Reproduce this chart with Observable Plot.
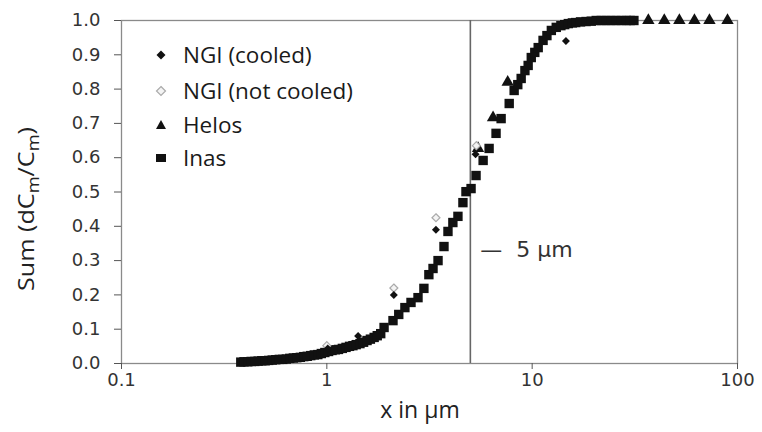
<!DOCTYPE html>
<html>
<head>
<meta charset="utf-8">
<script src="https://cdn.jsdelivr.net/npm/d3@7"></script>
<script src="https://cdn.jsdelivr.net/npm/@observablehq/plot@0.6"></script>
<style>
  html, body { margin: 0; padding: 0; background: #fff; }
  #wrap { position: relative; width: 762px; height: 432px; }
  #legend { position: absolute; left: 151px; top: 0; font-family: "Open Sans", sans-serif; font-size: 22.5px; line-height: 24px; color: #1a1a1a; }
  #legend .row { position: absolute; left: 0; height: 24px; display: flex; align-items: center; white-space: nowrap; }
  #legend svg { width: 20px; height: 20px; margin-right: 12px; flex: none; }
</style>
</head>
<body>
<div id="wrap"></div>
<script>
// ---- data ----
const inasX = [0.381, 0.395, 0.412, 0.428, 0.446, 0.463, 0.482, 0.501, 0.521, 0.542, 0.564, 0.587, 0.610, 0.635, 0.660, 0.687, 0.714, 0.743, 0.772, 0.803, 0.835, 0.869, 0.904, 0.940, 0.978, 1.02, 1.06, 1.10, 1.14, 1.19, 1.24, 1.29, 1.34, 1.39, 1.45, 1.51, 1.57, 1.63, 1.70, 1.76, 1.83, 1.90, 2.10, 2.24, 2.40, 2.57, 2.78, 2.97, 3.14, 3.29, 3.48, 3.72, 3.89, 4.11, 4.35, 4.60, 4.76, 5.04, 5.33, 5.77, 6.17, 6.67, 7.06, 7.73, 8.17, 8.51, 8.84, 9.22, 9.56, 9.90, 10.3, 10.7, 11.3, 11.8, 12.4, 13.1, 13.8, 14.4, 15.0, 15.7, 16.3, 17.2, 18.3, 19.4, 20.5, 21.7, 22.9, 24.2, 25.6, 27.1, 28.7, 30.0, 31.3];
const inasY = [0.004, 0.005, 0.005, 0.006, 0.006, 0.007, 0.008, 0.008, 0.009, 0.010, 0.011, 0.012, 0.012, 0.013, 0.015, 0.016, 0.017, 0.018, 0.020, 0.021, 0.023, 0.025, 0.026, 0.029, 0.032, 0.035, 0.038, 0.040, 0.041, 0.044, 0.047, 0.050, 0.052, 0.055, 0.058, 0.062, 0.067, 0.071, 0.076, 0.081, 0.087, 0.105, 0.125, 0.143, 0.163, 0.178, 0.192, 0.219, 0.259, 0.277, 0.300, 0.341, 0.385, 0.411, 0.429, 0.469, 0.501, 0.510, 0.548, 0.592, 0.627, 0.671, 0.714, 0.758, 0.796, 0.813, 0.831, 0.854, 0.869, 0.892, 0.907, 0.921, 0.942, 0.956, 0.971, 0.980, 0.985, 0.988, 0.991, 0.993, 0.994, 0.996, 0.997, 0.998, 1.0, 1.0, 1.0, 1.0, 1.0, 1.0, 1.0, 1.0, 1.0];
const helosX = [5.45, 6.45, 7.6, 36.8, 44.0, 52.1, 61.7, 73.0, 89.4];
const helosY = [0.627, 0.717, 0.82, 1.0, 1.0, 1.0, 1.0, 1.0, 1.0];
const ngiCooledX = [1.01, 1.42, 2.12, 3.40, 5.30, 14.6];
const ngiCooledY = [0.044, 0.080, 0.200, 0.390, 0.610, 0.940];
const ngiNotCooledX = [1.0, 2.12, 3.40, 5.35];
const ngiNotCooledY = [0.052, 0.220, 0.425, 0.635];
const seriesNames = ["NGI (cooled)", "NGI (not cooled)", "Helos", "Inas"];
const xTicks = [0.1, 1, 10, 100];
const yTicks = [0, 0.1, 0.2, 0.3, 0.4, 0.5, 0.6, 0.7, 0.8, 0.9, 1.0];
const markerX = [5];
const markerLabel = "—  5 µm";
const markerLabelY = 0.33;

const inas = inasX.map((x, i) => ({x, y: inasY[i]}));
const helos = helosX.map((x, i) => ({x, y: helosY[i]}));
const ngiC = ngiCooledX.map((x, i) => ({x, y: ngiCooledY[i]}));
const ngiN = ngiNotCooledX.map((x, i) => ({x, y: ngiNotCooledY[i]}));

const tickFont = "DejaVu Sans, sans-serif";

const chart = Plot.plot({
  width: 762,
  height: 432,
  marginLeft: 121,
  marginRight: 25,
  marginTop: 20,
  marginBottom: 69,
  style: { fontFamily: tickFont, fontSize: "18px", color: "#333", background: "#fff" },
  x: { type: "log", domain: [0.1, 100], label: null },
  y: { domain: [0, 1], label: null },
  marks: [
    Plot.frame({ stroke: "#8a8a8a", strokeWidth: 1.3 }),
    Plot.ruleX(markerX, { stroke: "#666", strokeWidth: 1.6 }),
    Plot.axisX({ ticks: xTicks, tickFormat: d => String(d), tickSize: 6, tickPadding: 4, stroke: "#555", fill: "#333", fontSize: 18, label: null }),
    Plot.axisY({ ticks: yTicks, tickFormat: d3.format(".1f"), tickSize: 7, tickPadding: 14, stroke: "#555", fill: "#333", fontSize: 18, label: null }),
    Plot.text([markerLabelY], { x: () => markerX[0], y: d => d, text: () => markerLabel, textAnchor: "start", dx: 10, fontSize: 22, fill: "#333", fontFamily: tickFont }),
    Plot.dot(helos, { x: "x", y: "y", symbol: "triangle", r: 4.6, fill: "#111", stroke: "none" }),
    Plot.dot(inas, { x: "x", y: "y", symbol: "square", r: 5.3, fill: "#111", stroke: "none" }),
    Plot.dot(ngiN, { x: "x", y: "y", symbol: "diamond2", r: 3.6, fill: "#f4f4f4", stroke: "#aaa", strokeWidth: 1.2 }),
    Plot.dot(ngiC, { x: "x", y: "y", symbol: "diamond2", r: 3.6, fill: "#111", stroke: "none" })
  ]
});

const wrap = document.getElementById("wrap");
wrap.appendChild(chart);

// axis titles
const svg = d3.select(chart);
svg.append("text")
  .attr("x", 420).attr("y", 418)
  .attr("text-anchor", "middle")
  .attr("font-family", "Open Sans, sans-serif").attr("font-size", 23).attr("fill", "#222")
  .text("x in µm");
const yl = svg.append("text")
  .attr("transform", "translate(34,209) rotate(-90)")
  .attr("text-anchor", "middle")
  .attr("textLength", 164).attr("lengthAdjust", "spacingAndGlyphs")
  .attr("font-family", "Open Sans, sans-serif").attr("font-size", 22).attr("fill", "#222");
yl.append("tspan").text("Sum (dC");
yl.append("tspan").attr("font-size", 16).attr("dy", 5).text("m");
yl.append("tspan").attr("dy", -5).text("/C");
yl.append("tspan").attr("font-size", 16).attr("dy", 5).text("m");
yl.append("tspan").attr("dy", -5).text(")");

// legend (HTML overlay)
const legend = document.createElement("div");
legend.id = "legend";
const symbolSvgs = [
  '<svg viewBox="-10 -10 20 20"><path d="M0,-4.5L4.5,0L0,4.5L-4.5,0Z" fill="#111"/></svg>',
  '<svg viewBox="-10 -10 20 20"><path d="M0,-4.5L4.5,0L0,4.5L-4.5,0Z" fill="#f4f4f4" stroke="#aaa" stroke-width="1.2"/></svg>',
  '<svg viewBox="-10 -10 20 20"><path d="M0,-5L5,4L-5,4Z" fill="#111"/></svg>',
  '<svg viewBox="-10 -10 20 20"><rect x="-5" y="-4" width="10" height="8" fill="#111"/></svg>'
];
const rowCenters = [55, 91, 125, 158];
seriesNames.forEach((name, i) => {
  const row = document.createElement("div");
  row.className = "row";
  row.style.top = (rowCenters[i] - 12) + "px";
  row.innerHTML = symbolSvgs[i] + "<span>" + name + "</span>";
  legend.appendChild(row);
});
wrap.appendChild(legend);
</script>
</body>
</html>
